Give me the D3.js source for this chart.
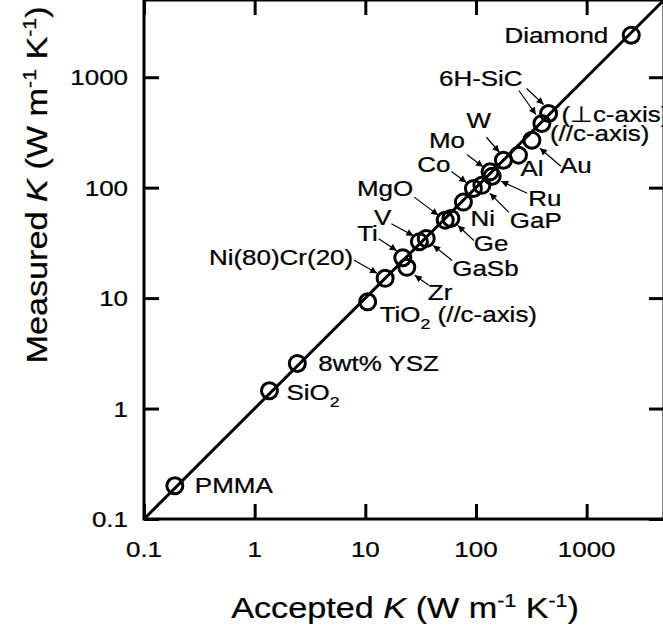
<!DOCTYPE html>
<html>
<head>
<meta charset="utf-8">
<script src="https://cdn.jsdelivr.net/npm/d3@7"></script>
<style>
html,body{margin:0;padding:0;background:#fff;}
svg{display:block;}
text{font-family:"Liberation Sans",Arial,sans-serif;fill:#000;stroke:#000;stroke-width:0.25px;}
</style>
</head>
<body>
<svg id="chart" width="663" height="634"></svg>
<script>
// ---- data ----
const materials = ["PMMA","SiO2","8wt% YSZ","TiO2","Ni(80)Cr(20)","Ti","Zr","V","GaSb","MgO","Ge","Ni","Co","GaP","Mo","Ru","W","Al","Au","6H-SiC //","6H-SiC ⊥","Diamond"];
const acceptedK = [0.19, 1.36, 2.43, 10.5, 15.1, 21.8, 23.7, 30.8, 35.5, 52.7, 59.3, 77, 94.8, 113, 134, 140, 177, 242, 320, 394, 453, 2530];
const measuredK = [0.20, 1.45, 2.56, 9.26, 15.1, 23.2, 19.0, 32.4, 34.7, 50.8, 52.6, 74, 98.4, 105, 139, 127, 177, 197, 269, 381, 469, 2400];
const tickValues = [0.1, 1, 10, 100, 1000];
const tickLabels = ["0.1", "1", "10", "100", "1000"];
const axisDomain = [0.1, 5000];

// ---- label layout (pixel offsets relative to the point) ----
// [index, text parts, dx, dy, anchor, arrow (from dx,dy -> to dx,dy) or null]
const labelLayout = [
  [0, [["PMMA"]], 20, 7, "start", null],
  [1, [["SiO"],["2","sub"]], 17, 9, "start", null],
  [2, [["8wt% YSZ"]], 21, 8, "start", null],
  [3, [["TiO"],["2","sub"],[" (//c-axis)"]], 12, 20, "start", null],
  [4, [["Ni(80)Cr(20)"]], -32, -13, "end", [-31,-18,-8,-5]],
  [5, [["Ti"]], -25, -17, "end", [-24,-19,-6,-7]],
  [6, [["Zr"]], 21, 33, "start", [22,18,8,8]],
  [7, [["V"]], -28, -17, "end", [-28,-18,-6,-6]],
  [8, [["GaSb"]], 26, 38, "start", [26,22,7,7]],
  [9, [["MgO"]], -32, -24, "end", [-31,-23,-7,-5]],
  [10, [["Ge"]], 23, 33, "start", [23,22,7,7]],
  [11, [["Ni"]], 7, 24, "start", null],
  [12, [["Co"]], -23, -16, "end", [-22,-17,-7,-6]],
  [13, [["GaP"]], 28, 43, "start", [27,27,8,8]],
  [14, [["Mo"]], -25, -24, "end", [-23,-17,-7,-5]],
  [15, [["Ru"]], 36, 30, "start", [35,17,9,5]],
  [16, [["W"]], -37, -32, "start", [-17,-23,-4,-8]],
  [17, [["Al"]], 2, 21, "start", null],
  [18, [["Au"]], 28, 33, "start", [29,26,8,8]],
  [19, [["(//c-axis)"]], 8, 18, "start", [-23,-33,-6,-9]],
  [20, [["(⊥c-axis)"]], 13, 8, "start", [-22,-25,-5,-9]],
  [21, [["Diamond"]], -23, 8, "end", null]
];
const sicHeaderOffset = [-26, -28]; // "6H-SiC" label relative to the ⊥ point

// ---- layout ----
const svg = d3.select("#chart");
const plot = {left:144, right:664, top:0, bottom:519};
const SX = 1.18;
const x = d3.scaleLog().domain(axisDomain).range([plot.left, plot.right]);
const y = d3.scaleLog().domain(axisDomain).range([plot.bottom, plot.top]);

svg.append("defs").append("marker")
  .attr("id","arrow").attr("viewBox","0 0 10 10").attr("refX",10).attr("refY",5)
  .attr("markerWidth",9).attr("markerHeight",7).attr("markerUnits","userSpaceOnUse")
  .attr("orient","auto")
  .append("path").attr("d","M0,0 L10,5 L0,10 z").attr("fill","#000");

svg.append("clipPath").attr("id","clip").append("rect")
  .attr("x",plot.left).attr("y",plot.top)
  .attr("width",plot.right-plot.left).attr("height",plot.bottom-plot.top);

function stext(g, xx, yy, size, anchor, parts, rot){
  const t = g.append("text")
    .attr("transform", `translate(${xx},${yy})` + (rot?` rotate(${rot})`:"") + ` scale(${SX},1)`)
    .attr("font-size", size).attr("text-anchor", anchor);
  let shift = 0;
  parts.forEach(p => {
    const [s, kind, style] = p;
    const ts = t.append("tspan").text(s);
    let target = 0, fs = size;
    if (kind === "sup") { target = -Math.round(size*0.38); fs = Math.round(size*0.62); }
    else if (kind === "sub") { target = Math.round(size*0.3); fs = Math.round(size*0.68); }
    ts.attr("dy", target - shift).attr("font-size", fs);
    if (style === "italic") ts.attr("font-style","italic");
    shift = target;
  });
  return t;
}

// diagonal line
svg.append("line").attr("clip-path","url(#clip)")
  .attr("x1", x(axisDomain[0])).attr("y1", y(axisDomain[0]))
  .attr("x2", x(axisDomain[1])).attr("y2", y(axisDomain[1]))
  .attr("stroke","#000").attr("stroke-width",3);

// axes (inward ticks on all four sides)
const tickLen = 15;
const axB = d3.axisBottom(x).tickValues(tickValues).tickSize(-tickLen).tickFormat("");
const axT = d3.axisTop(x).tickValues(tickValues).tickSize(-tickLen).tickFormat("");
const axL = d3.axisLeft(y).tickValues(tickValues).tickSize(-tickLen).tickFormat("");
const axR = d3.axisRight(y).tickValues(tickValues).tickSize(-tickLen).tickFormat("");
[[axB,`translate(0,${plot.bottom})`],[axT,`translate(0,${plot.top})`],
 [axL,`translate(${plot.left},0)`],[axR,`translate(${plot.right},0)`]].forEach(([a,tr])=>{
  const g = svg.append("g").attr("transform",tr).call(a);
  g.select(".domain").remove();
  g.selectAll(".tick line").attr("stroke","#000").attr("stroke-width",3);
});
svg.append("rect").attr("x",plot.left).attr("y",plot.top)
  .attr("width",plot.right-plot.left).attr("height",plot.bottom-plot.top)
  .attr("fill","none").attr("stroke","#000").attr("stroke-width",3);

// tick labels
const tl = svg.append("g");
tickValues.forEach((v,i)=>{
  stext(tl, x(v), 557, 22, "middle", [[tickLabels[i]]]);
  stext(tl, 128, y(v)+8, 22, "end", [[tickLabels[i]]]);
});

// axis titles
stext(svg, 405, 618, 29, "middle",
  [["Accepted "],["K",null,"italic"],[" (W m"],["-1","sup"],[" K"],["-1","sup"],[")"]]);
stext(svg, 47, 185, 29, "middle",
  [["Measured "],["K",null,"italic"],[" (W m"],["-1","sup"],[" K"],["-1","sup"],[")"]], -90);

// points
svg.append("g").selectAll("circle").data(acceptedK).join("circle")
  .attr("cx", d=>x(d)).attr("cy", (d,i)=>y(measuredK[i]))
  .attr("r", 8).attr("fill","none").attr("stroke","#000").attr("stroke-width",3);

// labels and arrows
const lg = svg.append("g");
labelLayout.forEach(([i, parts, dx, dy, anchor, arrow])=>{
  const px = x(acceptedK[i]), py = y(measuredK[i]);
  stext(lg, px+dx, py+dy, 22, anchor, parts);
  if (arrow) {
    lg.append("line").attr("x1",px+arrow[0]).attr("y1",py+arrow[1])
      .attr("x2",px+arrow[2]).attr("y2",py+arrow[3])
      .attr("stroke","#000").attr("stroke-width",1.2).attr("marker-end","url(#arrow)");
  }
});
{
  const i = materials.indexOf("6H-SiC ⊥");
  stext(lg, x(acceptedK[i])+sicHeaderOffset[0], y(measuredK[i])+sicHeaderOffset[1], 22, "end", [["6H-SiC"]]);
}
</script>
</body>
</html>
